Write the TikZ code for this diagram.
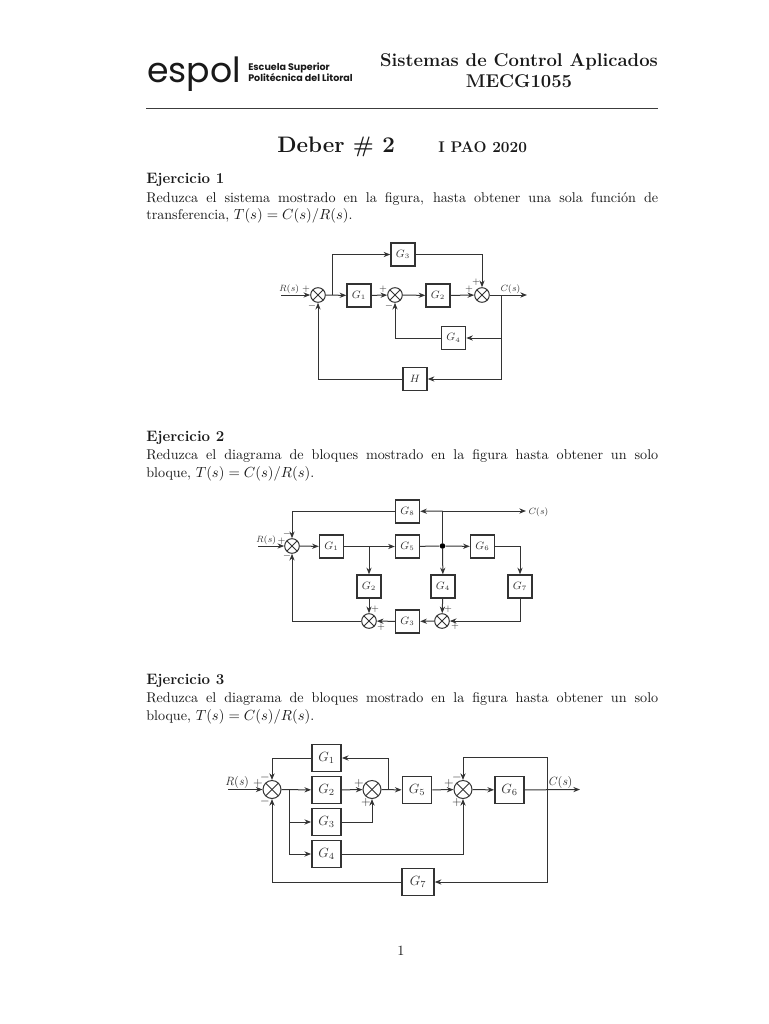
\documentclass[tikz,border=0pt]{standalone}
\usepackage{fontspec}
\usetikzlibrary{arrows.meta,calc}
\newfontfamily\logofont{Poppins}
\definecolor{ink}{gray}{0.1}
\definecolor{fig}{gray}{0.2}
\newcommand{\bodysize}{\fontsize{10.6}{12.4}\selectfont}
\newcommand{\justline}[1]{\makebox[384pt][s]{#1}}
\tikzset{
  lab/.style={inner sep=0pt,text=ink},
  lineL/.style={lab,anchor=base west,font=\bodysize},
  headL/.style={lab,anchor=base west,font=\bfseries\fontsize{11.3}{13}\selectfont},
  fa/.style={draw=fig,line width=0.75pt,-{Stealth[length=5pt,width=3.9pt]}},
  fl/.style={draw=fig,line width=0.75pt},
  gbox/.style={draw=fig,line width=1.1pt,inner sep=0pt,text=fig},
  sumj/.style={circle,draw=fig,line width=0.75pt,inner sep=0pt,minimum size=#1,
    path picture={
      \draw[fig,line width=0.75pt] (path picture bounding box.north west)--(path picture bounding box.south east);
      \draw[fig,line width=0.75pt] (path picture bounding box.north east)--(path picture bounding box.south west);}},
  sm/.style={inner sep=0pt,text=fig,font=\fontsize{6.8}{8}\selectfont},
  md/.style={inner sep=0pt,text=fig,font=\fontsize{9}{10}\selectfont},
  gA/.style={gbox,minimum width=18pt,minimum height=17.2pt,font=\fontsize{7.6}{9}\selectfont},
  gC/.style={gbox,minimum width=22pt,minimum height=20.6pt,font=\fontsize{10}{12}\selectfont},
}
\begin{document}
\begin{tikzpicture}[x=0.75pt,y=-0.75pt]
\useasboundingbox[fill=white] (0,0) rectangle (768,1024);
% header
\node[lab,anchor=base west,font=\logofont\fontsize{26}{30}\selectfont] (logo) at (147,83) {espol};
\node[lab,anchor=base west,font=\logofont\bfseries\fontsize{7.15}{8}\selectfont] (esc) at (248,70) {Escuela Superior};
\node[lab,anchor=base west,font=\logofont\bfseries\fontsize{7.15}{8}\selectfont] (pol) at (248,81.5) {Politécnica del Litoral};
\node[lab,font=\bfseries\fontsize{13.84}{16}\selectfont] (h1) at (519,62) {Sistemas de Control Aplicados};
\node[lab,font=\bfseries\fontsize{13.84}{16}\selectfont] (h2) at (519,81) {MECG1055};
\coordinate (ra) at (146,108); \coordinate (rb) at (658,108);
\draw[draw=ink!85!white,line width=0.75pt] (ra)--(rb);
\node[lab,anchor=base west,font=\bfseries\fontsize{16.8}{19}\selectfont] (t1) at (277,152) {Deber \# 2};
\node[lab,anchor=base west,font=\bfseries\fontsize{11.55}{13}\selectfont] (t2) at (438,152) {I PAO 2020};
% exercise 1
\node[headL] (e1) at (146,183) {Ejercicio 1};
\node[lineL] (e1a) at (146,202) {\justline{Reduzca el sistema mostrado en la figura, hasta obtener una sola función de}};
\node[lineL] (e1b) at (146,219.5) {transferencia, $T(s)=C(s)/R(s)$.};
% exercise 2
\node[headL] (e2) at (146,441) {Ejercicio 2};
\node[lineL] (e2a) at (146,459) {\justline{Reduzca el diagrama de bloques mostrado en la figura hasta obtener un solo}};
\node[lineL] (e2b) at (146,477) {bloque, $T(s)=C(s)/R(s)$.};
% exercise 3
\node[headL] (e3) at (146,684) {Ejercicio 3};
\node[lineL] (e3a) at (146,702) {\justline{Reduzca el diagrama de bloques mostrado en la figura hasta obtener un solo}};
\node[lineL] (e3b) at (146,720) {bloque, $T(s)=C(s)/R(s)$.};
\node[lab,font=\bodysize] (pg) at (401,951) {1};

% ---------- diagram 1
\node[sumj=11pt] (a1) at (318,295) {};
\node[sumj=11pt] (a2) at (395,295) {};
\node[sumj=11pt] (a3) at (482,295) {};
\node[gA] (aG1) at (359,295.5) {$G_1$};
\node[gA] (aG2) at (438,295.5) {$G_2$};
\node[gA] (aG3) at (403,254.5) {$G_3$};
\node[gA] (aG4) at (453.5,338) {$G_4$};
\node[gA] (aH) at (415,379) {$H$};
\coordinate (ain) at (281,295);
\coordinate (aout) at (527,295);
\coordinate (ab) at (332,295);
\coordinate (aj) at (501,295);
\draw[fa] (ain)--(a1);
\draw[fa] (a1)--(aG1);
\draw[fa] (aG1)--(a2);
\draw[fa] (a2)--(aG2);
\draw[fa] (aG2)--(a3);
\draw[fa] (a3)--(aout);
\draw[fa] (ab)|-(aG3);
\draw[fa] (aG3)-|(a3);
\draw[fa] (aj)|-(aG4);
\draw[fa] (aj)|-(aH);
\draw[fa] (aG4)-|(a2);
\draw[fa] (aH)-|(a1);
\node[sm] (aR) at (289,289) {\textit{R}(\textit{s})};
\node[sm] (aC) at (510,289) {\textit{C}(\textit{s})};
\node[sm] (ap1) at (306,289) {+};
\node[sm] (am1) at (312,306) {$-$};
\node[sm] (ap2) at (383,289) {+};
\node[sm] (am2) at (389,306) {$-$};
\node[sm] (ap3) at (476,282) {+};
\node[sm] (ap4) at (469,289) {+};

% ---------- diagram 2
\node[sumj=11pt] (b1) at (292,546) {};
\node[sumj=11pt] (b2) at (369,621) {};
\node[sumj=11pt] (b3) at (442,621) {};
\node[gA] (bG1) at (331.5,546.5) {$G_1$};
\node[gA] (bG5) at (407.5,546.5) {$G_5$};
\node[gA] (bG6) at (482.5,546.5) {$G_6$};
\node[gA] (bG8) at (407.5,511.5) {$G_8$};
\node[gA] (bG2) at (369,586.5) {$G_2$};
\node[gA] (bG4) at (443,586.5) {$G_4$};
\node[gA] (bG7) at (520,586.5) {$G_7$};
\node[gA] (bG3) at (407.5,621.5) {$G_3$};
\coordinate (bin) at (258,546);
\coordinate (bout) at (526,511);
\coordinate (bt) at (442.5,511);
\coordinate (bb) at (369,546);
\node[circle,fill=black,inner sep=0pt,minimum size=4.2pt] (bd) at (442.5,546) {};
\draw[fa] (bin)--(b1);
\draw[fa] (b1)--(bG1);
\draw[fa] (bG1)--(bG5);
\draw[fl] (bG5)--(bd);
\draw[fa] (bd)--(bG6);
\draw[fa] (bG6)-|(bG7);
\draw[fa] (bG7)|-(b3);
\draw[fa] (bb)--(bG2);
\draw[fa] (bd)--(bG4);
\draw[fa] (bG2)--(b2);
\draw[fa] (bG4)--(b3);
\draw[fa] (b3)--(bG3);
\draw[fa] (bG3)--(b2);
\draw[fa] (b2)-|(b1);
\draw[fl] (bd)--(bt);
\draw[fa] (bt)--(bG8);
\draw[fa] (bt)--(bout);
\draw[fa] (bG8)-|(b1);
\node[sm] (bR) at (266,540) {\textit{R}(\textit{s})};
\node[sm] (bC) at (538,512) {\textit{C}(\textit{s})};
\node[sm] (bp1) at (281.5,541) {+};
\node[sm] (bm1) at (287,534) {$-$};
\node[sm] (bm2) at (287,556) {$-$};
\node[sm] (bp2) at (375,609) {+};
\node[sm] (bp3) at (381,627) {+};
\node[sm] (bp4) at (448,609) {+};
\node[sm] (bp5) at (455,626) {+};

% ---------- diagram 3
\node[sumj=13.5pt] (c1) at (272,789.5) {};
\node[sumj=13.5pt] (c2) at (372,789.5) {};
\node[sumj=13.5pt] (c3) at (463,789.5) {};
\node[gC] (cG1) at (326.5,758) {$G_1$};
\node[gC] (cG2) at (326.5,790) {$G_2$};
\node[gC] (cG3) at (326.5,822) {$G_3$};
\node[gC] (cG4) at (326.5,854) {$G_4$};
\node[gC] (cG5) at (417,790) {$G_5$};
\node[gC] (cG6) at (509.5,790) {$G_6$};
\node[gC,minimum width=24pt] (cG7) at (418,882) {$G_7$};
\coordinate (cin) at (228,789.5);
\coordinate (cout) at (580,789.5);
\coordinate (cb) at (289,789.5);
\coordinate (cc) at (388,789.5);
\coordinate (cj) at (547,789.5);
\coordinate (ct) at (463,757);
\draw[fa] (cin)--(c1);
\draw[fa] (c1)--(cG2);
\draw[fa] (cG2)--(c2);
\draw[fa] (c2)--(cG5);
\draw[fa] (cG5)--(c3);
\draw[fa] (c3)--(cG6);
\draw[fa] (cG6)--(cout);
\draw[fa] (cb)|-(cG3);
\draw[fa] (cb)|-(cG4);
\draw[fa] (cG1)-|(c1);
\draw[fa] (cc)|-(cG1);
\draw[fa] (cG3)-|(c2);
\draw[fa] (cG4)-|(c3);
\draw[fa] (cj)|-(ct)--(c3);
\draw[fa] (cj)|-(cG7);
\draw[fa] (cG7)-|(c1);
\node[md] (cR) at (237,782) {\textit{R}(\textit{s})};
\node[md] (cC) at (560,782) {\textit{C}(\textit{s})};
\node[md] (cp1) at (258,783) {+};
\node[md] (cm1) at (265,777) {$-$};
\node[md] (cm2) at (265,801) {$-$};
\node[md] (cp2) at (359,783) {+};
\node[md] (cp3) at (366,802) {+};
\node[md] (cp4) at (449,783) {+};
\node[md] (cm3) at (457,777) {$-$};
\node[md] (cp5) at (457,802) {+};
\end{tikzpicture}
\end{document}
